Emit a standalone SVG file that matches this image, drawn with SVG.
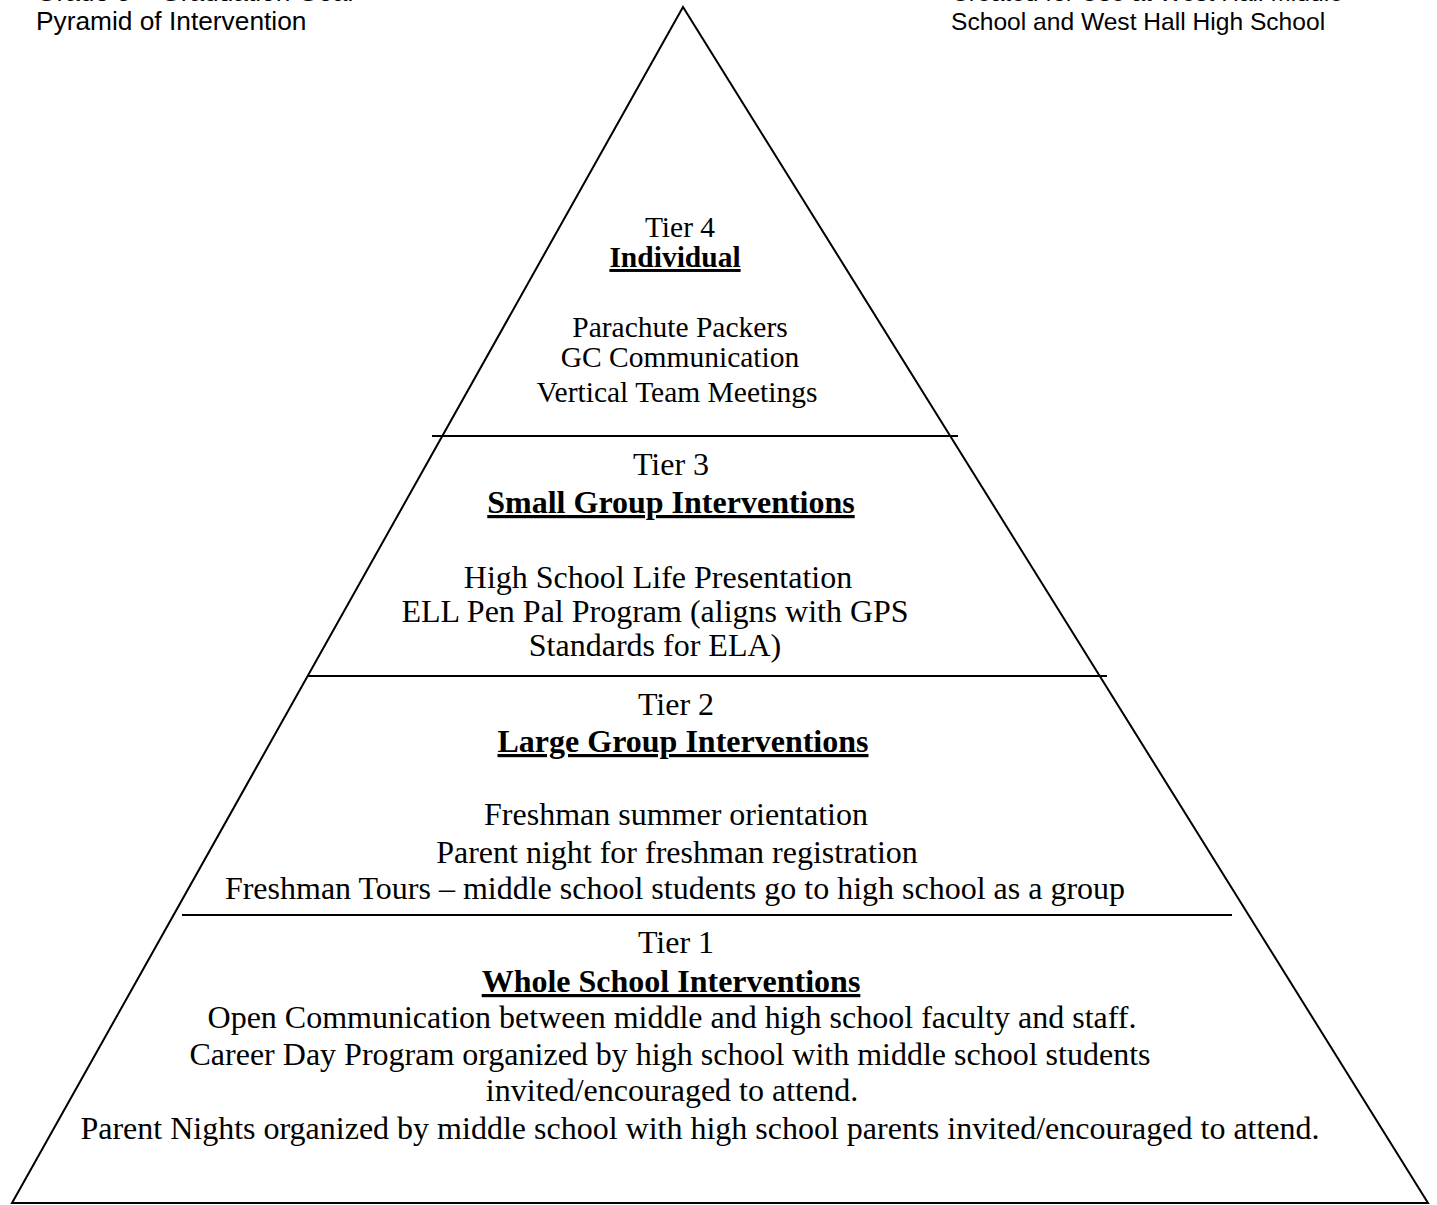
<svg xmlns="http://www.w3.org/2000/svg" width="1437" height="1205" viewBox="0 0 1437 1205">
<style>
.hdr{font-family:"Liberation Sans",Arial,sans-serif;fill:#000}
.hl{font-size:26.3px}
.hr{font-size:24.6px}
.t{font-family:"Liberation Serif","Times New Roman",serif;fill:#000;text-anchor:middle}
.s4{font-size:29.5px}
.s{font-size:32px}
.b{font-weight:bold;text-decoration:underline}
.ln{stroke:#000;stroke-width:2;fill:none}
</style>
<rect width="1437" height="1205" fill="#fff"/>
<g id="header-left">
<text class="hdr hl" x="36" y="1">Grade 8 – Graduation Goal</text>
<text class="hdr hl" x="36" y="30">Pyramid of Intervention</text>
</g>
<g id="header-right">
<text class="hdr hr" x="951" y="1">Created for Use at West Hall Middle</text>
<text class="hdr hr" x="951" y="30">School and West Hall High School</text>
</g>
<g id="connectors">
<polygon class="ln" points="683,7 12,1203 1428,1203"/>
<line class="ln" x1="432" y1="436" x2="958" y2="436"/>
<line class="ln" x1="307" y1="676" x2="1107" y2="676"/>
<line class="ln" x1="182" y1="915" x2="1232" y2="915"/>
</g>
<g id="tier4">
<text class="t s4" x="680" y="237">Tier 4</text>
<text class="t s4 b" x="675" y="267">Individual</text>
<text class="t s4" x="680" y="337">Parachute Packers</text>
<text class="t s4" x="680" y="367">GC Communication</text>
<text class="t s4" x="677" y="402">Vertical Team Meetings</text>
</g>
<g id="tier3">
<text class="t s" x="671" y="475">Tier 3</text>
<text class="t s b" x="671" y="513">Small Group Interventions</text>
<text class="t s" x="658" y="588">High School Life Presentation</text>
<text class="t s" x="655" y="622">ELL Pen Pal Program (aligns with GPS</text>
<text class="t s" x="655" y="656">Standards for ELA)</text>
</g>
<g id="tier2">
<text class="t s" x="676" y="715">Tier 2</text>
<text class="t s b" x="683" y="752">Large Group Interventions</text>
<text class="t s" x="676" y="825">Freshman summer orientation</text>
<text class="t s" x="677" y="863">Parent night for freshman registration</text>
<text class="t s" x="675" y="899">Freshman Tours – middle school students go to high school as a group</text>
</g>
<g id="tier1">
<text class="t s" x="676" y="953">Tier 1</text>
<text class="t s b" x="671" y="992">Whole School Interventions</text>
<text class="t s" x="672" y="1028">Open Communication between middle and high school faculty and staff.</text>
<text class="t s" x="670" y="1065">Career Day Program organized by high school with middle school students</text>
<text class="t s" x="672" y="1101">invited/encouraged to attend.</text>
<text class="t s" x="700" y="1139">Parent Nights organized by middle school with high school parents invited/encouraged to attend.</text>
</g>
</svg>
